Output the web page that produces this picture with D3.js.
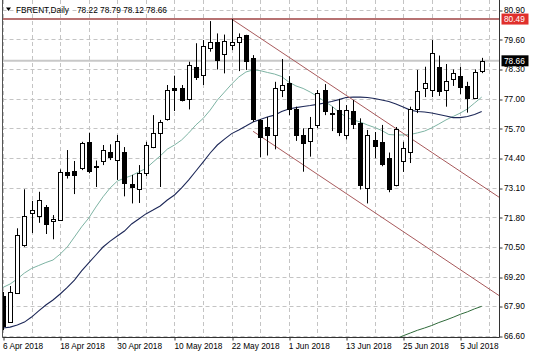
<!DOCTYPE html>
<html><head><meta charset="utf-8">
<script src="https://cdn.jsdelivr.net/npm/d3@7"></script>
<style>body{margin:0;background:#fff}svg{display:block}</style>
</head><body><svg id="c" width="536" height="357"></svg>
<script>
// ---------- data ----------
const symbol = "FBRENT,Daily";
const headerOHLC = [78.22, 78.79, 78.12, 78.66];
const dates = ["2018-04-06","2018-04-09","2018-04-10","2018-04-11","2018-04-12","2018-04-13",
"2018-04-16","2018-04-17","2018-04-18","2018-04-19","2018-04-20","2018-04-23","2018-04-24",
"2018-04-25","2018-04-26","2018-04-27","2018-04-30","2018-05-01","2018-05-02","2018-05-03",
"2018-05-04","2018-05-07","2018-05-08","2018-05-09","2018-05-10","2018-05-11","2018-05-14",
"2018-05-15","2018-05-16","2018-05-17","2018-05-18","2018-05-21","2018-05-22","2018-05-23",
"2018-05-24","2018-05-25","2018-05-28","2018-05-29","2018-05-30","2018-05-31","2018-06-01",
"2018-06-04","2018-06-05","2018-06-06","2018-06-07","2018-06-08","2018-06-11","2018-06-12",
"2018-06-13","2018-06-14","2018-06-15","2018-06-18","2018-06-19","2018-06-20","2018-06-21",
"2018-06-22","2018-06-25","2018-06-26","2018-06-27","2018-06-28","2018-06-29","2018-07-02",
"2018-07-03","2018-07-04","2018-07-05","2018-07-06","2018-07-09","2018-07-10"];
const open  = [68.35,67.21,68.50,70.59,72.00,71.86,72.27,71.61,71.71,73.77,73.84,73.95,75.11,74.05,74.28,74.65,74.34,74.66,73.25,73.03,
73.74,74.90,75.51,76.10,77.45,77.45,76.97,78.39,78.04,79.21,79.47,78.98,79.38,79.46,79.77,78.77,76.07,75.76,75.41,77.38,
77.67,76.53,75.41,75.11,75.85,77.36,76.39,76.50,75.41,76.48,75.93,73.09,75.21,75.09,74.41,73.22,74.24,74.68,76.53,77.45,
77.38,78.41,77.35,77.86,77.99,77.56,77.04,78.22];
const high  = [68.53,68.79,71.32,73.03,72.52,72.92,72.34,71.90,73.90,74.75,74.27,75.11,75.51,74.29,74.97,75.00,75.41,74.88,73.66,74.09,
75.11,76.28,76.07,77.60,78.01,77.60,78.62,79.43,79.57,80.40,79.86,79.81,80.49,79.86,79.80,78.91,76.11,76.20,77.74,78.74,
77.99,76.65,75.70,76.20,77.38,77.64,76.65,76.99,76.72,76.94,76.14,75.63,75.54,75.85,74.64,75.76,75.11,76.65,78.26,78.40,
79.57,78.89,78.52,78.28,78.39,77.74,78.28,78.79];
const low   = [66.86,67.17,68.47,70.51,71.11,71.56,71.07,70.84,71.68,73.50,72.82,73.87,73.73,73.13,74.09,74.31,73.44,72.72,72.41,72.43,
73.61,74.83,73.13,76.04,76.46,76.88,76.53,77.82,77.60,79.06,78.28,78.11,79.13,78.21,78.26,75.98,74.44,74.51,74.78,77.07,
76.28,75.15,73.80,74.46,75.71,76.28,75.58,75.36,75.21,75.67,73.02,72.41,74.39,74.04,72.90,73.16,73.79,74.18,76.37,77.07,
77.07,77.12,76.65,77.56,77.20,76.39,76.99,78.12];
const close = [67.04,68.53,71.03,71.86,72.12,72.56,71.54,71.71,73.80,73.63,73.66,75.04,73.84,73.99,74.75,74.41,75.16,73.29,73.10,73.73,
74.97,75.51,75.99,77.38,77.38,76.94,78.48,77.96,79.31,79.47,78.69,79.53,79.50,79.69,78.65,76.11,75.32,75.39,77.45,77.58,
76.55,75.41,75.08,75.70,77.26,76.43,76.33,75.54,76.50,75.89,73.22,75.41,74.93,74.12,73.04,75.67,74.83,76.55,77.34,77.67,
79.02,77.36,77.76,78.13,77.51,77.03,78.17,78.66];
const maFast = [68.73,68.88,69.10,69.36,69.56,69.69,69.82,69.93,70.19,70.50,70.94,71.38,71.77,72.25,72.70,73.09,73.39,73.52,73.63,73.79,
73.94,74.22,74.49,74.79,74.97,75.19,75.50,75.85,76.13,76.50,76.94,77.29,77.64,77.95,78.17,78.26,78.23,78.15,78.08,77.97,
77.73,77.56,77.45,77.29,77.10,76.88,76.68,76.42,76.20,76.07,75.98,75.85,75.74,75.61,75.43,75.41,75.41,75.43,75.50,75.58,
75.72,75.89,76.07,76.22,76.37,76.55,76.81,77.07];
const maSlow = [66.95,66.99,67.08,67.21,67.43,67.70,67.96,68.18,68.44,68.73,69.05,69.45,69.80,70.15,70.50,70.76,70.98,71.20,71.51,71.73,
71.95,72.12,72.30,72.56,72.78,73.09,73.44,73.83,74.22,74.62,74.97,75.23,75.47,75.63,75.80,75.98,76.09,76.20,76.28,76.44,
76.55,76.61,76.66,76.70,76.75,76.81,76.88,76.96,77.05,77.07,77.07,77.05,77.01,76.94,76.88,76.77,76.64,76.50,76.44,76.42,
76.37,76.31,76.24,76.17,76.17,76.22,76.31,76.44];
const maLongStart = 55;
const maLong = [66.48,66.61,66.73,66.85,66.95,67.06,67.19,67.30,67.42,67.55,67.66,67.79,67.90];
const upperChannel = [[32, 80.49], [67, 73.19]];
const lowerChannel = [[35, 75.57], [67, 68.88]];
const resistanceLevel = 80.49;
const lastPrice = 78.66;
const priceTicks = [66.6,67.9,69.2,70.5,71.8,73.1,74.4,75.7,77.0,78.3,79.6,80.9];
const dateTickIdx = [0,8,16,24,32,40,48,56,64];
const gridIdx = [0,4,8,12,16,20,24,28,32,36,40,44,48,52,56,60,64,68];

// ---------- layout ----------
const L = 2.5, R = 499.5, B = 337.5;
const FONT = "Liberation Sans, Arial, sans-serif";
const svg = d3.select("#c");
const x = d3.scaleLinear().domain([0, 67]).range([3, 481.7]);
const y = d3.scaleLinear().domain([66.6, 80.9]).range([336, 9.7]);
const px = v => Math.round(v) + 0.5;

svg.append("defs").append("clipPath").attr("id","plot")
  .append("rect").attr("x", L).attr("y", 0).attr("width", R - L).attr("height", B);

// grid
const grid = svg.append("g").attr("stroke", "#c4c4c4").attr("stroke-dasharray", "4,3").attr("stroke-width", 1);
grid.selectAll(".gh").data(priceTicks).join("line")
  .attr("x1", L).attr("x2", R).attr("y1", d => px(y(d))).attr("y2", d => px(y(d)));
grid.selectAll(".gv").data(gridIdx).join("line")
  .attr("y1", 0).attr("y2", B).attr("x1", d => px(x(d))).attr("x2", d => px(x(d)));

const plot = svg.append("g").attr("clip-path", "url(#plot)");

// horizontal levels
plot.append("line").attr("x1", L).attr("x2", R)
  .attr("y1", y(lastPrice)).attr("y2", y(lastPrice))
  .attr("stroke", "#c8c8c8").attr("stroke-width", 2);
plot.append("line").attr("x1", L).attr("x2", R)
  .attr("y1", y(resistanceLevel)).attr("y2", y(resistanceLevel))
  .attr("stroke", "#b77272").attr("stroke-width", 2);

// moving averages
const lineGen = d3.line().x(d => x(d[0])).y(d => y(d[1]));
plot.append("path").datum(maFast.map((v, i) => [i, v]))
  .attr("d", lineGen).attr("fill", "none").attr("stroke", "#7db3a3").attr("stroke-width", 1);
plot.append("path").datum(maSlow.map((v, i) => [i, v]))
  .attr("d", lineGen).attr("fill", "none").attr("stroke", "#1d2858").attr("stroke-width", 1.1);
plot.append("path").datum(maLong.map((v, i) => [i + maLongStart, v]))
  .attr("d", lineGen).attr("fill", "none").attr("stroke", "#2f6a3a").attr("stroke-width", 1);

// channel (rays to the right)
function ray(pts) {
  const [a, b] = pts;
  const s = (b[1] - a[1]) / (b[0] - a[0]);
  const end = x.invert(R + 5);
  return [a, [end, a[1] + s * (end - a[0])]];
}
[upperChannel, lowerChannel].forEach(c => {
  plot.append("path").datum(ray(c)).attr("d", lineGen)
    .attr("fill", "none").attr("stroke", "#a85a5c").attr("stroke-width", 1);
});

// candles
const idx = d3.range(open.length);
const cg = plot.append("g");
cg.selectAll(".w").data(idx).join("line")
  .attr("x1", i => px(x(i))).attr("x2", i => px(x(i)))
  .attr("y1", i => y(high[i])).attr("y2", i => y(low[i]))
  .attr("stroke", "#000").attr("stroke-width", 1);
cg.selectAll(".b").data(idx).join("rect")
  .attr("x", i => Math.round(x(i)) - 2 + 0.5)
  .attr("width", 4)
  .attr("y", i => Math.round(y(Math.max(open[i], close[i]))) + 0.5)
  .attr("height", i => Math.max(1, Math.round(Math.abs(y(open[i]) - y(close[i])))))
  .attr("fill", i => close[i] >= open[i] ? "#fff" : "#000")
  .attr("stroke", "#000").attr("stroke-width", 1);

// frame
svg.append("line").attr("x1", L).attr("x2", L).attr("y1", 0).attr("y2", B).attr("stroke", "#555");
svg.append("line").attr("x1", L).attr("x2", R).attr("y1", B).attr("y2", B).attr("stroke", "#333");
svg.append("line").attr("x1", R).attr("x2", R).attr("y1", 0).attr("y2", B).attr("stroke", "#333");

// right axis
const ya = svg.append("g").attr("transform", `translate(${R},0)`)
  .call(d3.axisRight(y).tickValues(priceTicks).tickFormat(d3.format(".2f")).tickSize(3).tickPadding(2));
ya.select(".domain").remove();
ya.selectAll("line").attr("stroke", "#333").attr("transform", (d) => `translate(0,${px(y(d)) - y(d)})`);
ya.selectAll("text").attr("font-family", FONT).attr("font-size", "8.3px").attr("fill", "#000")
  .attr("x", 4.5).attr("dy", "0.32em");

// bottom axis
const fmt = d3.timeFormat("%-d %b %Y"), parse = d3.timeParse("%Y-%m-%d");
const xa = svg.append("g").attr("transform", `translate(0,${B})`)
  .call(d3.axisBottom(x).tickValues(dateTickIdx).tickFormat(i => fmt(parse(dates[i]))).tickSize(3).tickPadding(2));
xa.select(".domain").remove();
xa.selectAll("line").attr("stroke", "#333").attr("transform", d => `translate(${px(x(d)) - x(d)},0)`);
xa.selectAll("text").attr("font-family", FONT).attr("font-size", "8.3px").attr("fill", "#000")
  .attr("text-anchor", "start").attr("x", -0.5).attr("y", 6).attr("dy", "0.71em");

// price labels on axis
function priceTag(v, bg) {
  const g = svg.append("g");
  g.append("rect").attr("x", R + 2).attr("y", y(v) - 5.5).attr("width", 27).attr("height", 11).attr("fill", bg);
  g.append("text").attr("x", R + 4.5).attr("y", y(v)).attr("dy", "0.34em")
    .attr("font-family", FONT).attr("font-size", "8.3px").attr("fill", "#fff").text(d3.format(".2f")(v));
}
priceTag(resistanceLevel, "#e0302c");
priceTag(lastPrice, "#000");

// header
svg.append("path").attr("d", "M6,7.5 L11,7.5 L8.5,11 Z").attr("fill", "#000");
svg.append("text").attr("x", 16).attr("y", 12.7).attr("font-family", FONT).attr("font-size", "8.3px")
  .attr("fill", "#000").text(symbol);
svg.append("text").attr("x", 77).attr("y", 12.7).attr("font-family", FONT).attr("font-size", "8.3px")
  .attr("fill", "#000").text(headerOHLC.map(d3.format(".2f")).join(" "));
</script></body></html>
